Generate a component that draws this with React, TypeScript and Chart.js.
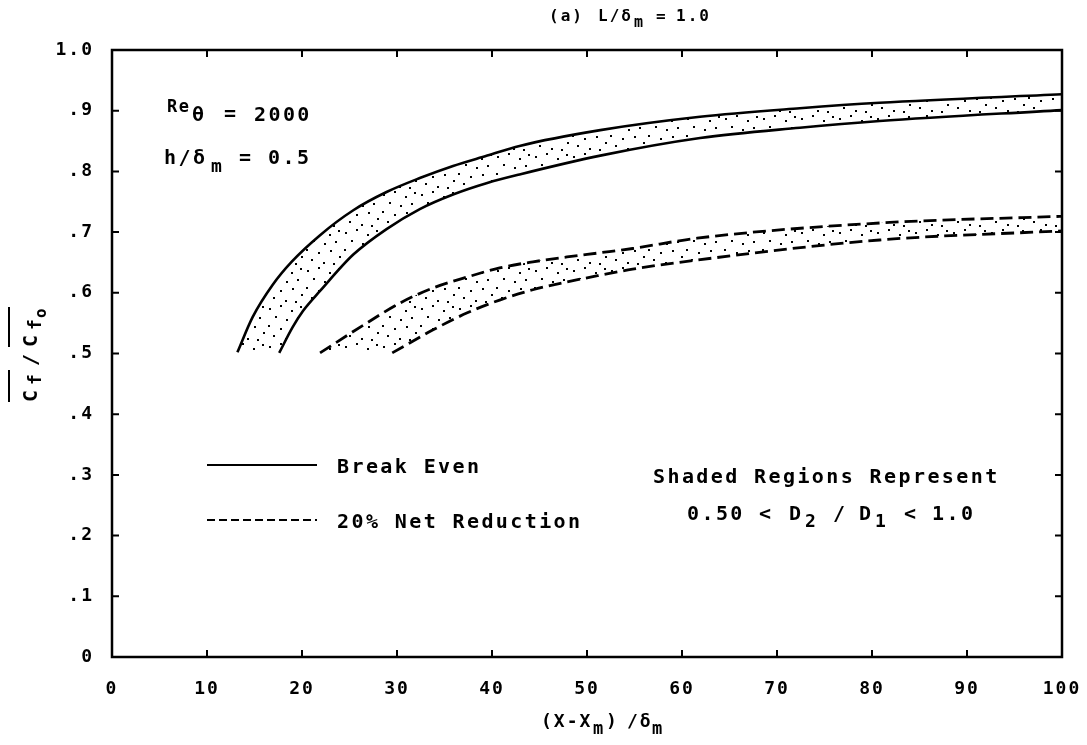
import React, { useEffect, useRef } from 'react';
import { Chart, registerables } from 'chart.js';

Chart.register(...registerables);

// ---- data ----
const breakEvenHiX = [13.2, 14.8, 16.9, 18.9, 21.9, 25.4, 28.9, 32.4, 35.9, 39.5, 42.9, 51.4, 61.9, 72.4, 80.8, 100];
const breakEvenHiY = [0.502, 0.56, 0.613, 0.651, 0.695, 0.736, 0.766, 0.789, 0.809, 0.826, 0.842, 0.868, 0.89, 0.904, 0.913, 0.927];

const breakEvenLoX = [17.6, 19.0, 20.1, 21.9, 25.4, 28.9, 32.4, 35.9, 39.5, 42.9, 51.4, 61.9, 72.4, 80.8, 100];
const breakEvenLoY = [0.501, 0.543, 0.57, 0.603, 0.663, 0.705, 0.738, 0.762, 0.781, 0.795, 0.826, 0.855, 0.872, 0.883, 0.901];

const netRedHiX = [21.9, 26.8, 30.3, 33.8, 37.4, 40.8, 44.3, 47.9, 51.4, 54.8, 61.6, 80.8, 100];
const netRedHiY = [0.501, 0.55, 0.583, 0.608, 0.626, 0.641, 0.651, 0.659, 0.666, 0.673, 0.69, 0.715, 0.726];

const netRedLoX = [29.5, 33.8, 37.4, 40.8, 44.3, 47.9, 51.4, 54.8, 61.6, 80.8, 100];
const netRedLoY = [0.501, 0.539, 0.567, 0.588, 0.605, 0.618, 0.629, 0.639, 0.654, 0.687, 0.702];

const shadeBase = 0.5;
const xMin = 0, xMax = 100, xStep = 10;
const yMin = 0, yMax = 1, yStep = 0.1;

const legendLabels = ['Break Even', '20% Net Reduction'];
const noteTitle = 'Shaded Regions Represent';

const FONT = '"DejaVu Sans Mono", "Liberation Mono", monospace';

function pts(xs: number[], ys: number[]) {
  return xs.map((x, i) => ({ x, y: ys[i] }));
}

function makePattern(): CanvasPattern | string {
  const c = document.createElement('canvas');
  c.width = 38;
  c.height = 38;
  const g = c.getContext('2d');
  if (!g) return '#ddd';
  g.fillStyle = '#000';
  const dots = [
    [3, 4], [14, 1], [25, 6], [34, 2], [9, 12], [20, 15], [31, 13],
    [2, 21], [14, 24], [26, 22], [35, 28], [7, 31], [19, 34], [29, 35],
  ];
  dots.forEach(([x, y]) => g.fillRect(x, y, 2, 2));
  return g.createPattern(c, 'repeat') || '#ddd';
}

type Piece = { t: string; x: number; y: number; size: number; sp?: number };

function drawPieces(ctx: CanvasRenderingContext2D, pieces: Piece[]) {
  pieces.forEach((p) => {
    ctx.font = `bold ${p.size}px ${FONT}`;
    (ctx as any).letterSpacing = `${p.sp ?? 2.4}px`;
    ctx.fillText(p.t, p.x, p.y);
  });
}

const annotate = {
  id: 'annotate',
  beforeDraw(chart: any) {
    chart.ctx.letterSpacing = '2px';
  },
  afterDraw(chart: any) {
    const ctx: CanvasRenderingContext2D = chart.ctx;
    const { left, right, top, bottom } = chart.chartArea;
    const xs = chart.scales.x;
    const ys = chart.scales.y;
    ctx.save();
    ctx.strokeStyle = '#000';
    ctx.fillStyle = '#000';
    ctx.lineWidth = 2.5;
    ctx.setLineDash([]);
    ctx.strokeRect(left, top, right - left, bottom - top);
    ctx.lineWidth = 2;
    ctx.beginPath();
    xs.ticks.forEach((t: any) => {
      const p = xs.getPixelForValue(t.value);
      ctx.moveTo(p, bottom);
      ctx.lineTo(p, bottom - 7);
      ctx.moveTo(p, top);
      ctx.lineTo(p, top + 7);
    });
    ys.ticks.forEach((t: any) => {
      const p = ys.getPixelForValue(t.value);
      ctx.moveTo(left, p);
      ctx.lineTo(left + 7, p);
      ctx.moveTo(right, p);
      ctx.lineTo(right - 7, p);
    });
    ctx.stroke();

    // legend
    ctx.lineWidth = 2;
    ctx.beginPath();
    ctx.moveTo(207, 465);
    ctx.lineTo(317, 465);
    ctx.stroke();
    ctx.setLineDash([8, 4]);
    ctx.beginPath();
    ctx.moveTo(207, 520);
    ctx.lineTo(317, 520);
    ctx.stroke();
    ctx.setLineDash([]);

    ctx.textAlign = 'left';
    ctx.textBaseline = 'alphabetic';
    drawPieces(ctx, [
      { t: legendLabels[0], x: 337, y: 473, size: 20 },
      { t: legendLabels[1], x: 337, y: 528, size: 20 },
      { t: noteTitle, x: 653, y: 483, size: 20 },
      { t: '0.50', x: 687, y: 520, size: 20 },
      { t: '<', x: 759, y: 520, size: 20 },
      { t: 'D', x: 789, y: 520, size: 20 },
      { t: '2', x: 805, y: 527, size: 18 },
      { t: '/', x: 833, y: 520, size: 20 },
      { t: 'D', x: 859, y: 520, size: 20 },
      { t: '1', x: 875, y: 527, size: 18 },
      { t: '<', x: 904, y: 520, size: 20 },
      { t: '1.0', x: 932, y: 520, size: 20 },
      // Re_theta
      { t: 'Re', x: 167, y: 112, size: 17, sp: 1.5 },
      { t: 'θ', x: 192, y: 121, size: 20 },
      { t: '=', x: 224, y: 120, size: 20 },
      { t: '2000', x: 254, y: 121, size: 20 },
      // h/delta_m
      { t: 'h/δ', x: 164, y: 164, size: 20 },
      { t: 'm', x: 211, y: 172, size: 18 },
      { t: '=', x: 239, y: 164, size: 20 },
      { t: '0.5', x: 268, y: 164, size: 20 },
      // title
      { t: '(a)', x: 549, y: 21, size: 16, sp: 2 },
      { t: 'L/δ', x: 598, y: 21, size: 16, sp: 2 },
      { t: 'm', x: 634, y: 27, size: 15, sp: 2 },
      { t: '=', x: 656, y: 21, size: 16, sp: 2 },
      { t: '1.0', x: 676, y: 21, size: 16, sp: 2 },
      // x title
      { t: '(X-X', x: 541, y: 727, size: 18, sp: 2 },
      { t: 'm', x: 593, y: 734, size: 17, sp: 2 },
      { t: ')', x: 606, y: 727, size: 18, sp: 2 },
      { t: '/δ', x: 627, y: 727, size: 18, sp: 2 },
      { t: 'm', x: 652, y: 734, size: 17, sp: 2 },
    ]);

    // y title (rotated)
    ctx.save();
    ctx.translate(37, 402);
    ctx.rotate(-Math.PI / 2);
    drawPieces(ctx, [
      { t: 'C', x: 0, y: 0, size: 20, sp: 2 },
      { t: 'f', x: 17, y: 4, size: 18, sp: 1 },
      { t: '/', x: 36, y: 0, size: 20, sp: 2 },
      { t: 'C', x: 55, y: 0, size: 20, sp: 2 },
      { t: 'f', x: 72, y: 4, size: 18, sp: 1 },
      { t: 'o', x: 84, y: 9, size: 16, sp: 1 },
    ]);
    ctx.lineWidth = 2;
    ctx.beginPath();
    ctx.moveTo(0, -28);
    ctx.lineTo(32, -28);
    ctx.moveTo(55, -28);
    ctx.lineTo(95, -28);
    ctx.stroke();
    ctx.restore();

    ctx.restore();
  },
};

export default function App() {
  const ref = useRef<HTMLCanvasElement | null>(null);
  useEffect(() => {
    if (!ref.current) return;
    const pattern = makePattern();
    const common = {
      pointRadius: 0,
      borderColor: '#000',
      cubicInterpolationMode: 'monotone' as const,
    };
    const chart = new Chart(ref.current, {
      type: 'line',
      data: {
        datasets: [
          {
            ...common,
            label: 'Break Even (upper)',
            data: pts(breakEvenHiX, breakEvenHiY),
            borderWidth: 2.6,
            fill: { value: shadeBase },
            backgroundColor: pattern,
            order: 4,
          },
          {
            ...common,
            label: 'Break Even (lower)',
            data: pts(breakEvenLoX, breakEvenLoY),
            borderWidth: 2.6,
            fill: { value: shadeBase },
            backgroundColor: '#ffffff',
            order: 3,
          },
          {
            ...common,
            label: '20% Net Reduction (upper)',
            data: pts(netRedHiX, netRedHiY),
            borderWidth: 2.8,
            borderDash: [13, 6],
            fill: { value: shadeBase },
            backgroundColor: pattern,
            order: 2,
          },
          {
            ...common,
            label: '20% Net Reduction (lower)',
            data: pts(netRedLoX, netRedLoY),
            borderWidth: 2.8,
            borderDash: [13, 6],
            fill: { value: shadeBase },
            backgroundColor: '#ffffff',
            order: 1,
          },
        ],
      },
      options: {
        animation: false,
        responsive: true,
        maintainAspectRatio: false,
        layout: { padding: { left: 0, top: 50, right: 25, bottom: 0 } },
        plugins: {
          legend: { display: false },
          title: { display: false },
          tooltip: { enabled: false },
        },
        scales: {
          x: {
            type: 'linear',
            min: xMin,
            max: xMax,
            ticks: {
              stepSize: xStep,
              autoSkip: false,
              maxRotation: 0,
              padding: 22,
              color: '#000',
              font: { family: FONT, size: 18, weight: 'bold' },
            },
            grid: { display: false, drawTicks: false },
            border: { display: false },
            afterFit: (s: any) => {
              s.height = 88;
              s.paddingLeft = 0;
              s.paddingRight = 0;
            },
          },
          y: {
            type: 'linear',
            min: yMin,
            max: yMax,
            ticks: {
              stepSize: yStep,
              autoSkip: false,
              padding: 18,
              color: '#000',
              font: { family: FONT, size: 18, weight: 'bold' },
              callback: (v: any) => {
                const n = Math.round(Number(v) * 10);
                return n === 0 ? '0' : n === 10 ? '1.0' : '.' + n;
              },
            },
            grid: { display: false, drawTicks: false },
            border: { display: false },
            afterFit: (s: any) => {
              s.width = 112;
              s.paddingTop = 0;
              s.paddingBottom = 0;
            },
          },
        },
      },
      plugins: [annotate],
    });
    return () => chart.destroy();
  }, []);
  return (
    <div style={{ position: 'fixed', left: 0, top: 0, width: 1087, height: 745, background: '#fff' }}>
      <canvas ref={ref} />
    </div>
  );
}
